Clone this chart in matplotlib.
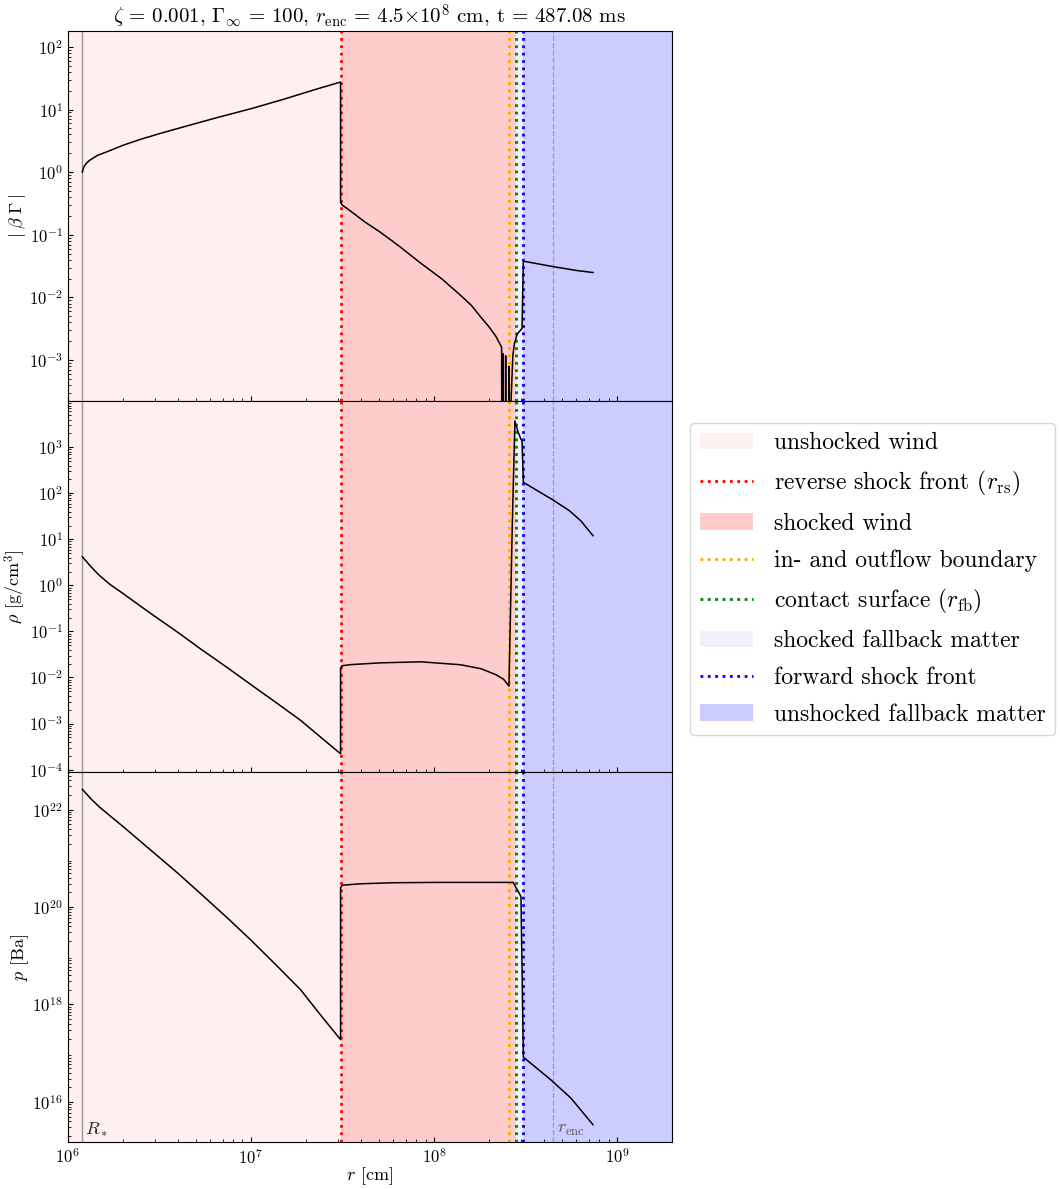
import matplotlib.pyplot as plt
from matplotlib.transforms import blended_transform_factory

plt.rcParams['font.family'] = 'serif'
plt.rcParams['font.serif'] = ['cmr10']
plt.rcParams['mathtext.fontset'] = 'cm'
plt.rcParams['axes.formatter.use_mathtext'] = True

# characteristic radii [cm]
R_STAR = 1.2e6
R_RS = 3.09e7
R_IO = 2.58e8
R_FB = 2.80e8
R_FS = 3.08e8
R_ENC = 4.5e8
R_MIN, R_MAX = 1e6, 2e9

# |beta Gamma|
r_bg = [1.2e6, 1.22e6, 1.26e6, 1.32e6, 1.45e6, 1.63e6, 2.01e6, 2.49e6, 3.2e6, 4.5e6,
        6.5e6, 1.0e7, 1.5e7, 2.2e7, 3.09e7,
        3.09e7, 3.15e7, 3.5e7, 4.2e7, 5.1e7, 6.5e7, 8.5e7, 1.1e8, 1.4e8, 1.6e8,
        1.81e8, 2.0e8, 2.18e8, 2.32e8,
        2.344e8, 2.35e8, 2.385e8, 2.392e8, 2.40e8, 2.46e8, 2.466e8, 2.475e8,
        2.56e8, 2.57e8, 2.58e8, 2.62e8, 2.64e8, 2.70e8, 2.75e8, 2.85e8, 3.03e8,
        3.08e8, 4.5e8, 6.0e8, 7.4e8]
beta_gamma = [1.0, 1.2, 1.38, 1.56, 1.85, 2.11, 2.7, 3.34, 4.16, 5.5,
              7.4, 10.3, 14.5, 20.5, 27.5,
              0.33, 0.30, 0.24, 0.16, 0.11, 0.065, 0.035, 0.02, 0.0108, 0.0075,
              0.0048, 0.0034, 0.0024, 0.0017,
              0.0016, 1e-6, 1e-6, 1.26e-3, 1e-6, 1e-6, 1.18e-3, 1e-6,
              1e-6, 7.9e-4, 1e-6, 1e-6, 2.3e-4, 1.2e-3, 1.8e-3, 2.6e-3, 3.2e-3,
              0.038, 0.031, 0.027, 0.025]

# density [g/cm^3]
r_rho = [1.2e6, 1.3e6, 1.4e6, 1.5e6, 1.7e6, 1.93e6, 2.82e6, 4e6, 5.3e6, 7.5e6, 1e7, 1.4e7,
         1.87e7, 2.4e7, 3.09e7,
         3.09e7, 3.15e7, 3.5e7, 5.1e7, 8.5e7, 1.4e8, 1.81e8, 2.18e8, 2.4e8, 2.57e8,
         2.68e8, 2.77e8, 2.87e8, 2.99e8, 3.03e8,
         3.08e8, 3.6e8, 4.47e8, 5.5e8, 6.37e8, 7.4e8]
rho = [4.2, 2.9, 2.1, 1.6, 1.05, 0.74, 0.25, 0.095, 0.042, 0.016, 0.0070, 0.0027,
       0.00117, 0.00051, 0.00022,
       0.016, 0.018, 0.019, 0.0208, 0.0219, 0.0189, 0.0155, 0.0115, 0.0092, 0.0065,
       20, 3720, 2270, 1500, 1380,
       174, 120, 72, 42, 25, 12]

# pressure [Ba]
r_p = [1.2e6, 1.35e6, 1.5e6, 2.0e6, 2.82e6, 4e6, 5.3e6, 7.5e6, 1e7, 1.4e7,
       1.87e7, 2.4e7, 3.09e7,
       3.09e7, 3.15e7, 4e7, 6e7, 1e8, 2e8, 2.71e8, 2.99e8,
       3.08e8, 4.37e8, 5.6e8, 7.4e8]
pressure = [2.6e22, 1.6e22, 1.1e22, 4.5e21, 1.5e21, 4.9e20, 1.9e20, 5.8e19, 2.1e19, 6.0e18,
            2.0e18, 6.1e17, 1.9e17,
            2.5e20, 2.8e20, 3.0e20, 3.15e20, 3.2e20, 3.2e20, 3.2e20, 1.65e20,
            8.3e16, 2.8e16, 1.2e16, 3.4e15]

panels = [
    (r_bg, beta_gamma, r'$|\;\beta\;\Gamma\;|$', (2.2e-4, 1.8e2), [1e-3, 1e-2, 1e-1, 1e0, 1e1, 1e2]),
    (r_rho, rho, r'$\rho$ [g/cm$^3$]', (9e-5, 1.0e4), [1e-4, 1e-3, 1e-2, 1e-1, 1e0, 1e1, 1e2, 1e3]),
    (r_p, pressure, r'$p$ [Ba]', (1.5e15, 6.0e22), [1e16, 1e18, 1e20, 1e22]),
]

fig, axes = plt.subplots(3, 1, sharex=True, figsize=(10.6, 11.89), dpi=100)
fig.subplots_adjust(left=0.064, right=0.634, top=0.974, bottom=0.0395, hspace=0)

for ax, (r, y, ylabel, ylim, yticks) in zip(axes, panels):
    ax.axvspan(R_MIN, R_RS, color='#fff0f0', lw=0, label='unshocked wind')
    ax.axvline(R_RS, color='red', ls=':', lw=2, label=r'reverse shock front ($r_{\rm rs}$)')
    ax.axvspan(R_RS, R_FB, color='#ffcccc', lw=0, label='shocked wind')
    ax.axvline(R_IO, color='orange', ls=':', lw=2, label='in- and outflow boundary')
    ax.axvline(R_FB, color='green', ls=':', lw=2, label=r'contact surface ($r_{\rm fb}$)')
    ax.axvspan(R_FB, R_FS, color='#f0f0ff', lw=0, label='shocked fallback matter')
    ax.axvline(R_FS, color='blue', ls=':', lw=2, label='forward shock front')
    ax.axvspan(R_FS, R_MAX, color='#ccccff', lw=0, label='unshocked fallback matter')
    ax.axvline(R_STAR, color='gray', lw=1, alpha=0.8)
    ax.axvline(R_ENC, color='gray', ls='--', lw=1, alpha=0.6)

    ax.plot(r, y, color='black', lw=1.1)
    ax.set_xscale('log')
    ax.set_yscale('log')
    ax.set_xlim(R_MIN, R_MAX)
    ax.set_ylim(*ylim)
    ax.set_yticks(yticks)
    ax.set_ylabel(ylabel, fontsize=13, labelpad=1)
    ax.tick_params(which='both', direction='in', labelsize=12)

trans = blended_transform_factory(axes[2].transData, axes[2].transAxes)
axes[2].text(R_STAR * 1.03, 0.01, r'$R_*$', transform=trans, fontsize=13,
             ha='left', va='bottom', color='#222222')
axes[2].text(R_ENC * 1.04, 0.01, r'$r_{\rm enc}$', transform=trans, fontsize=13,
             ha='left', va='bottom', color='#555555')

axes[0].set_title(r'$\zeta\,=\,0.001$, $\Gamma_\infty\,=\,100$, $r_{\rm enc}\,=\,4.5{\times}10^8$ cm, t = 487.08 ms',
                  fontsize=15, pad=4)
axes[2].set_xlabel(r'$r$ [cm]', fontsize=13, labelpad=-1)

axes[1].legend(loc='center left', bbox_to_anchor=(1.03, 0.52), fontsize=17,
               handlelength=2.25, handletextpad=0.9, borderaxespad=0, labelspacing=0.62)

fig.savefig('out.png', dpi=100)
